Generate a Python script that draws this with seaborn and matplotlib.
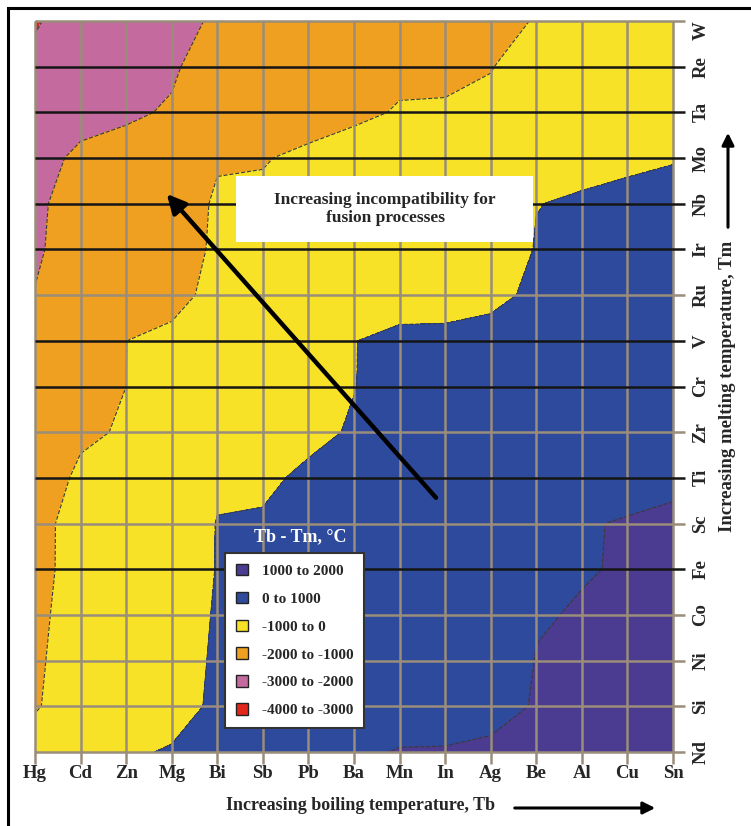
import numpy as np
import pandas as pd
import matplotlib
matplotlib.use("Agg")
from matplotlib import pyplot as plt
from matplotlib.patches import Patch, Rectangle, FancyArrowPatch
import seaborn as sns


# Seaborn global style, serif bold text like the original print figure.
sns.set_theme(style="white")
plt.rcParams['font.family'] = ['Liberation Serif', 'DejaVu Serif']
plt.rcParams['font.weight'] = 'bold'

# x axis: elements ordered by boiling temperature Tb (deg C)
tb_elements = ['Hg', 'Cd', 'Zn', 'Mg', 'Bi', 'Sb', 'Pb', 'Ba', 'Mn', 'In', 'Ag', 'Be', 'Al', 'Cu', 'Sn']
tb_values = [357, 767, 907, 1090, 1564, 1587, 1749, 1897, 2061, 2072, 2162, 2469, 2519, 2562, 2602]

# y axis: elements ordered by melting temperature Tm (deg C)
tm_elements = ['Nd', 'Si', 'Ni', 'Co', 'Fe', 'Sc', 'Ti', 'Zr', 'Cr', 'V', 'Ru', 'Ir', 'Nb', 'Mo', 'Ta', 'Re', 'W']
tm_values = [1021, 1414, 1455, 1495, 1538, 1541, 1668, 1855, 1907, 1910, 2334, 2446, 2477, 2623, 3017, 3186, 3422]

# colour bands for Tb - Tm
levels = [-4000, -3000, -2000, -1000, 0, 1000, 2000]
band_colors = ['#e3261c', '#c46a9e', '#f0a020', '#f8e227', '#2d4a9d', '#4b3c91']
band_labels = ['-4000 to -3000', '-3000 to -2000', '-2000 to -1000', '-1000 to 0', '0 to 1000', '1000 to 2000']

# rows drawn with a black rule, the rest are grey
dark_rows = ['Re', 'Ta', 'Mo', 'Nb', 'Ir', 'V', 'Cr', 'Ti', 'Fe']

grey = '#9a8d7a'

# Tb - Tm table, rows = Tm element, columns = Tb element
diff = pd.DataFrame(np.subtract.outer(tb_values, tm_values).T, index=tm_elements, columns=tb_elements)

W, H = 751, 826
fig = plt.figure(figsize=(W / 100, H / 100), dpi=100)
ax = fig.add_axes([35 / W, 74 / H, 638 / W, 731 / H])

xs = np.arange(len(tb_elements))
ys = np.arange(len(tm_elements))
ax.contourf(xs, ys, diff.values, levels=levels, colors=sns.color_palette(band_colors), zorder=1)
ax.contour(xs, ys, diff.values, levels=levels[1:-1], colors='#3a3a3a', linewidths=0.8,
           linestyles='dashed', zorder=2)

# grid rules, running a bit past the frame like tick marks
ext = 0.27
ax.vlines(xs, -ext, ys[-1], colors=grey, linewidth=1.8, clip_on=False, zorder=3)
row_colors = ['#151515' if e in dark_rows else grey for e in tm_elements]
ax.hlines(ys, 0, xs[-1] + ext, colors=row_colors, linewidth=1.8, clip_on=False, zorder=3)

ax.set_xlim(0, xs[-1])
ax.set_ylim(0, ys[-1])
for s in ax.spines.values():
    s.set_visible(False)

ax.set_xticks(xs)
ax.set_xticklabels(tb_elements, fontsize=13.5, fontweight='bold')
ax.yaxis.tick_right()
ax.set_yticks(ys)
ax.set_yticklabels(tm_elements, fontsize=13.5, fontweight='bold', rotation=90, va='center')
ax.get_yticklabels()[-1].set_va('top')  # top label sits just under the frame edge
ax.tick_params(axis='x', length=0, pad=9)
ax.tick_params(axis='y', length=0, pad=14)
ax.grid(False)

# big arrow and its caption
ax.annotate('', xy=(2.85, 12.26), xytext=(8.84, 5.52),
            arrowprops=dict(arrowstyle='-|>', color='black', lw=3.2, mutation_scale=28), zorder=6)
fig.patches.append(Rectangle((236 / W, 1 - 242 / H), 297 / W, 66 / H, transform=fig.transFigure,
                             facecolor='white', edgecolor='none', zorder=5))
fig.text(385 / W, 1 - 209 / H, 'Increasing incompatibility for\nfusion processes', ha='center',
         va='center', fontsize=12.5, fontweight='bold', linespacing=1.25, zorder=6)

# legend
handles = [Patch(facecolor=c, edgecolor='#222222', label=l) for c, l in zip(band_colors, band_labels)][::-1]
leg = ax.legend(handles=handles, loc='upper left', bbox_to_anchor=(225 / W, 1 - 553 / H),
                bbox_transform=fig.transFigure, frameon=True, fancybox=False, framealpha=1,
                edgecolor='#333333', handlelength=0.8, handleheight=0.8, borderaxespad=0,
                labelspacing=0.9, borderpad=0.7, handletextpad=0.9,
                prop={'weight': 'bold', 'size': 11})
leg.get_frame().set_linewidth(1.5)
leg.set_zorder(7)
fig.text(300 / W, 1 - 537 / H, 'Tb - Tm, °C', ha='center', va='center', color='white',
         fontsize=13, fontweight='bold')

# axis titles with arrows
fig.text(360 / W, 1 - 806 / H, 'Increasing boiling temperature, Tb', ha='center', va='center',
         fontsize=13, fontweight='bold')
fig.patches.append(FancyArrowPatch((512 / W, 1 - 808 / H), (658 / W, 1 - 808 / H),
                                   transform=fig.transFigure, arrowstyle='-|>', mutation_scale=18,
                                   lw=2.2, color='black'))
fig.text(727 / W, 1 - 386 / H, 'Increasing melting temperature, Tm', ha='center', va='center',
         rotation=90, fontsize=13.5, fontweight='bold')
fig.patches.append(FancyArrowPatch((728 / W, 1 - 230 / H), (728 / W, 1 - 130 / H),
                                   transform=fig.transFigure, arrowstyle='-|>', mutation_scale=18,
                                   lw=2.2, color='black'))

# outer frame, cut by the right and bottom edges of the image
fig.patches.append(Rectangle((8 / W, -0.05), 1.1, 1.05 - 8 / H, transform=fig.transFigure,
                             fill=False, edgecolor='black', lw=2.2))

fig.savefig('out.png', dpi=100)
